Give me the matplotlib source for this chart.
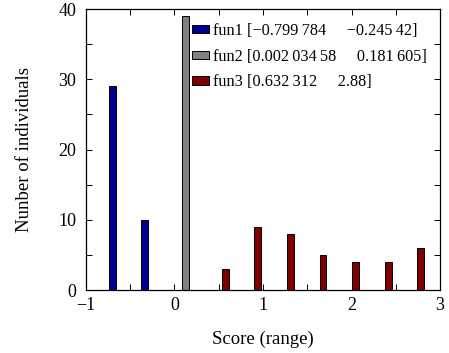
import numpy as np
import matplotlib
matplotlib.use("Agg")
import matplotlib.pyplot as plt
from matplotlib.ticker import MultipleLocator, FuncFormatter

plt.rcParams['font.family'] = ['Liberation Serif', 'DejaVu Serif']

# histogram bins (10 bins over -0.8 .. 2.88)
bin_centers = [-0.616, -0.248, 0.120, 0.488, 0.856, 1.224, 1.592, 1.960, 2.328, 2.696]
fun1 = [29, 10, 0, 0, 0, 0, 0, 0, 0, 0]
fun2 = [0, 0, 39, 0, 0, 0, 0, 0, 0, 0]
fun3 = [0, 0, 0, 3, 9, 8, 5, 4, 4, 6]
labels = ["fun1 [\u22120.799\u2009784     \u22120.245\u200942]",
          "fun2 [0.002\u2009034\u200958     0.181\u2009605]",
          "fun3 [0.632\u2009312     2.88]"]
colors = ["#00008f", "#808080", "#800000"]

fig = plt.figure(figsize=(4.49, 3.53), dpi=100)
ax = fig.add_axes([0.1915, 0.178, 0.7885, 0.7965])

x = np.array(bin_centers)
off = 0.086
w = 0.078
for k, (vals, c, lab) in enumerate(zip([fun1, fun2, fun3], colors, labels)):
    ax.bar(x + (k - 1) * off, vals, width=w, color=c, edgecolor='black',
           linewidth=0.7, label=lab)

ax.set_xlim(-1, 3)
ax.set_ylim(0, 40)
ax.xaxis.set_major_locator(MultipleLocator(1))
ax.xaxis.set_minor_locator(MultipleLocator(0.5))
ax.yaxis.set_major_locator(MultipleLocator(10))
ax.yaxis.set_minor_locator(MultipleLocator(5))
ax.tick_params(which='both', direction='in', top=True, right=True, length=4, width=0.7, labelsize=13)
ax.tick_params(axis='x', pad=5)
ax.tick_params(axis='y', pad=7)
ax.xaxis.set_major_formatter(FuncFormatter(lambda v, p: f"{v:.0f}".replace("-", "\u2212")))
ax.yaxis.set_major_formatter(FuncFormatter(lambda v, p: f"{v:.0f}"))
for s in ax.spines.values():
    s.set_linewidth(0.9)

ax.set_xlabel("Score (range)", fontsize=13.5, labelpad=12)
ax.set_ylabel("Nunber of individuals", fontsize=13.5, labelpad=18)

ax.legend(loc='upper right', frameon=False, fontsize=11.7, handlelength=1.1,
          handleheight=0.4, handletextpad=0.25, labelspacing=0.6,
          borderaxespad=0.0, borderpad=0.3, bbox_to_anchor=(0.978, 0.968))

fig.savefig("out.png", dpi=100)
